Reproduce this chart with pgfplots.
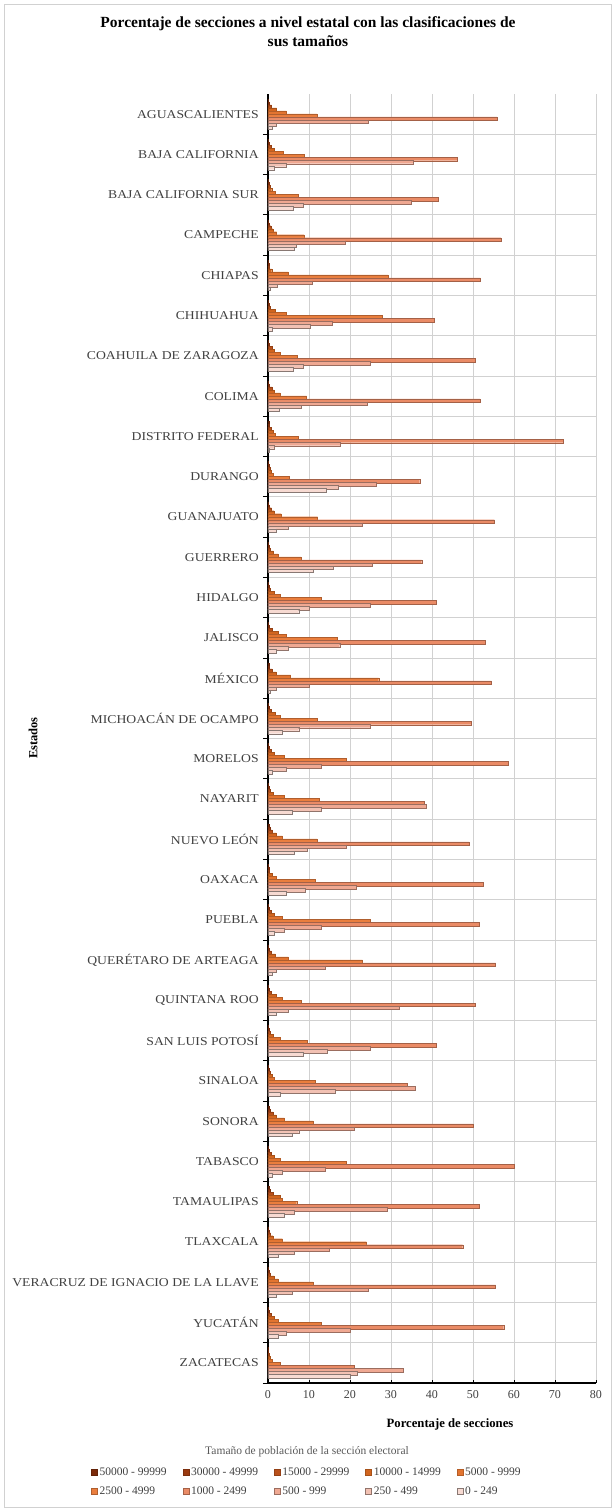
\documentclass[border=0pt]{standalone}
\usepackage{fontspec}
\setmainfont{Liberation Serif}
\usepackage{pgfplots}
\usepackage{pgfplotstable}
\pgfplotsset{compat=1.18}
\definecolor{c1}{HTML}{7B2A0A}
\definecolor{c2}{HTML}{9B3A10}
\definecolor{c3}{HTML}{B9501A}
\definecolor{c4}{HTML}{D1651F}
\definecolor{c5}{HTML}{E27430}
\definecolor{c6}{HTML}{EA7E3D}
\definecolor{c7}{HTML}{EA8B66}
\definecolor{c8}{HTML}{EFA892}
\definecolor{c9}{HTML}{F2C1B3}
\definecolor{c10}{HTML}{F7DAD2}
\definecolor{txt}{HTML}{404040}
\pgfplotstableread{
pos s1 s2 s3 s4 s5 s6 s7 s8 s9 s10
31 0.1 0.3 0.8 2.1 4.5 11.9 55.8 24.4 2.1 1.0
30 0.1 0.3 0.7 1.5 3.7 8.8 46.2 35.4 4.5 1.5
29 0.1 0.2 0.5 0.9 1.7 7.4 41.5 35.0 8.6 6.2
28 0.1 0.3 0.7 1.2 2.1 8.8 56.8 18.8 6.9 6.5
27 0.1 0.2 0.4 0.9 4.9 29.3 51.8 10.7 2.2 0.5
26 0.1 0.3 0.6 1.8 4.5 27.8 40.6 15.6 10.2 1.0
25 0.1 0.3 1.0 1.5 2.9 7.1 50.5 24.9 8.5 6.2
24 0.1 0.3 1.0 1.5 2.9 9.4 51.7 24.2 8.0 2.7
23 0.2 0.4 0.8 1.2 1.8 7.3 72.0 17.6 1.5 0.3
22 0.1 0.2 0.5 0.8 1.3 5.1 37.0 26.3 17.1 14.1
21 0.1 0.3 0.8 1.5 3.2 12.1 55.2 23.0 5.0 2.0
20 0.1 0.2 0.5 1.3 2.5 8.0 37.5 25.5 16.0 11.0
19 0.1 0.3 0.6 1.5 3.0 13.0 41.0 25.0 10.0 7.5
18 0.1 0.4 1.0 2.5 4.5 16.8 53.0 17.5 5.0 2.0
17 0.2 0.4 1.0 2.0 5.5 27.0 54.5 10.0 2.0 0.5
16 0.1 0.3 0.7 1.8 3.0 12.0 49.5 25.0 7.5 3.5
15 0.1 0.3 0.8 1.5 4.0 19.0 58.5 13.0 4.5 1.0
14 0.1 0.2 0.5 1.2 4.0 12.5 38.0 38.5 13.0 6.0
13 0.2 0.5 1.0 2.0 3.5 12.0 49.0 19.0 9.5 6.5
12 0.1 0.2 0.4 1.0 2.0 11.5 52.5 21.5 9.0 4.5
11 0.1 0.3 0.7 1.5 3.5 25.0 51.5 13.0 4.0 1.5
10 0.1 0.3 0.8 1.8 5.0 23.0 55.5 14.0 2.0 1.0
9 0.1 0.3 0.8 2.0 3.5 8.0 50.5 32.0 5.0 2.0
8 0.1 0.2 0.5 1.2 3.0 9.5 41.0 25.0 14.5 8.5
7 0.1 0.2 0.5 1.0 1.5 11.5 34.0 36.0 16.5 3.0
6 0.2 0.5 1.2 2.0 4.0 11.0 50.0 21.0 7.5 6.0
5 0.1 0.3 0.7 1.5 3.0 19.0 60.0 14.0 3.5 1.0
4 0.2 0.5 1.2 3.0 3.5 7.0 51.5 29.0 6.5 4.0
3 0.1 0.3 0.6 1.2 3.5 24.0 47.5 15.0 6.5 2.5
2 0.1 0.3 0.6 1.5 2.5 11.0 55.5 24.5 6.0 2.0
1 0.1 0.3 0.8 1.5 2.5 13.0 57.5 20.0 4.5 2.4
0 0.1 0.1 0.3 0.6 1.0 2.9 21.0 33.0 21.7 20.0
}\datatable
\begin{document}
\begin{tikzpicture}
\path (-268pt,-128pt) rectangle (347pt,1383pt);
\draw[black!18, line width=0.8pt] (-264pt,-124pt) rectangle (343pt,1379pt);
\begin{axis}[
  at={(0pt,0pt)}, anchor=south west,
  scale only axis, width=328pt, height=1289pt,
  xmin=0, xmax=80, ymin=-0.5, ymax=31.5,
  xbar, bar width=3.6pt,
  axis x line*=bottom, axis y line*=left,
  x axis line style={black, line width=1.4pt},
  y axis line style={black, line width=1.4pt},
  xtick={0,10,...,80},
  ytick={0,...,31},
  yticklabels={ZACATECAS,YUCATÁN,VERACRUZ DE IGNACIO DE LA LLAVE,TLAXCALA,TAMAULIPAS,TABASCO,SONORA,SINALOA,SAN LUIS POTOSÍ,QUINTANA ROO,QUERÉTARO DE ARTEAGA,PUEBLA,OAXACA,NUEVO LEÓN,NAYARIT,MORELOS,MICHOACÁN DE OCAMPO,MÉXICO,JALISCO,HIDALGO,GUERRERO,GUANAJUATO,DURANGO,DISTRITO FEDERAL,COLIMA,COAHUILA DE ZARAGOZA,CHIHUAHUA,CHIAPAS,CAMPECHE,BAJA CALIFORNIA SUR,BAJA CALIFORNIA,AGUASCALIENTES},
  minor ytick={-0.5,0.5,...,30.5},
  xmajorgrids, yminorgrids,
  major grid style={black!18, line width=0.8pt},
  minor grid style={black!18, line width=0.8pt},
  major y tick style={draw=none},
  minor y tick style={black, line width=0.8pt},
  major x tick style={black, line width=0.8pt},
  minor tick length=5pt, major tick length=3pt,
  xticklabel style={font=\fontsize{12}{14}\selectfont, text=txt, yshift=-4pt},
  yticklabel style={font=\fontsize{12}{14}\selectfont, text=txt, xscale=1.14, xshift=-2pt},
  /pgf/number format/assume math mode=true,
  legend columns=5,
  legend cell align=left,
  legend style={at={(axis description cs:0.119,-0.0625)}, anchor=north, draw=none,
    font=\fontsize{11.5}{13}\selectfont, text=txt, row sep=6pt,
    /tikz/every even column/.append style={column sep=14pt}},
  legend image code/.code={\fill[#1] (0pt,-3pt) rectangle (6pt,3pt);},
]
\addplot[fill=c1, draw=c1!80!black, line width=0.3pt, bar shift=13.5pt] table[x=s1,y=pos]{\datatable};
\addplot[fill=c2, draw=c2!80!black, line width=0.3pt, bar shift=10.5pt] table[x=s2,y=pos]{\datatable};
\addplot[fill=c3, draw=c3!80!black, line width=0.3pt, bar shift=7.5pt] table[x=s3,y=pos]{\datatable};
\addplot[fill=c4, draw=c4!80!black, line width=0.3pt, bar shift=4.5pt] table[x=s4,y=pos]{\datatable};
\addplot[fill=c5, draw=c5!80!black, line width=0.3pt, bar shift=1.5pt] table[x=s5,y=pos]{\datatable};
\addplot[fill=c6, draw=c6!75!black, line width=0.3pt, bar shift=-1.5pt] table[x=s6,y=pos]{\datatable};
\addplot[fill=c7, draw=c7!70!black, line width=0.3pt, bar shift=-4.5pt] table[x=s7,y=pos]{\datatable};
\addplot[fill=c8, draw=c8!65!black, line width=0.3pt, bar shift=-7.5pt] table[x=s8,y=pos]{\datatable};
\addplot[fill=c9, draw=c9!60!black, line width=0.3pt, bar shift=-10.5pt] table[x=s9,y=pos]{\datatable};
\addplot[fill=c10, draw=c10!55!black, line width=0.3pt, bar shift=-13.5pt] table[x=s10,y=pos]{\datatable};
\legend{50000 - 99999,30000 - 49999,15000 - 29999,10000 - 14999,5000 - 9999,2500 - 4999,1000 - 2499,500 - 999,250 - 499,0 - 249}
\end{axis}
\node[align=center, font=\fontsize{15.5}{19}\selectfont\bfseries] at (40pt,1351pt)
  {Porcentaje de secciones a nivel estatal con las clasificaciones de\\sus tamaños};
\node[rotate=90, font=\fontsize{12.5}{14}\selectfont\bfseries] at (-235pt,645pt) {Estados};
\node[font=\fontsize{12.7}{14}\selectfont\bfseries] at (182pt,-41pt) {Porcentaje de secciones};
\node[font=\fontsize{11.5}{13}\selectfont, text=black!65] at (39pt,-69pt) {Tamaño de población de la sección electoral};
\end{tikzpicture}
\end{document}
